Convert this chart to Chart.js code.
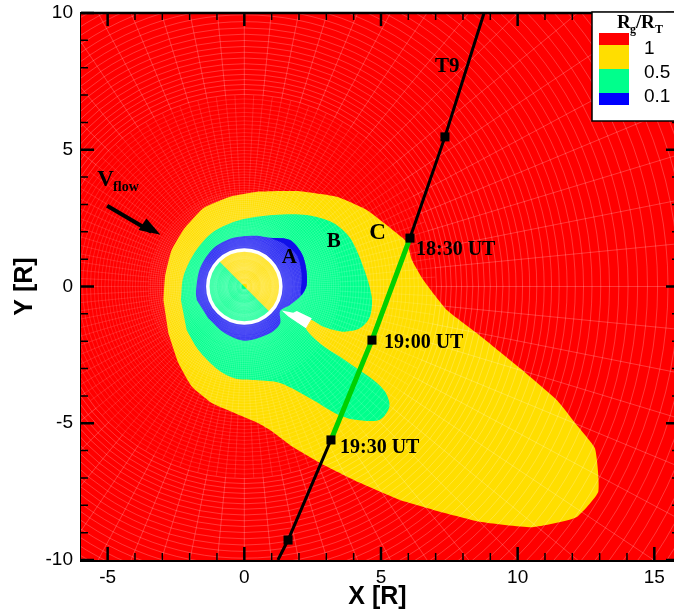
<!DOCTYPE html>
<html>
<head>
<meta charset="utf-8">
<style>
  html, body { margin: 0; padding: 0; background: #fff; }
  #wrap { width: 674px; height: 614px; overflow: hidden; }
</style>
<script src="https://cdn.jsdelivr.net/npm/chart.js@4/dist/chart.umd.min.js"></script>
</head>
<body>
<div id="wrap"><canvas id="canvas" width="674" height="614"></canvas></div>
<script>
// region outlines in X/Y [R]
const redOutline = [[-6, -10], [16, -10], [16, 10], [-6, 10]];
const yellowOutline = [[-2.96, -0.49], [-2.90, 0.36], [-2.66, 1.33], [-2.23, 2.07], [-1.50, 2.86], [-0.52, 3.28],
    [0.57, 3.47], [1.92, 3.49], [3.38, 3.28], [4.48, 2.80], [5.58, 1.95], [5.95, 1.62], [6.12, 1.00], [6.55, 0.24],
    [7.41, -0.86], [8.50, -1.70], [9.23, -2.29], [10.09, -2.99], [11.43, -4.15], [12.16, -5.06], [12.83, -5.92],
    [12.95, -7.50], [12.13, -8.45], [10.54, -8.80], [8.62, -8.60], [6.92, -8.17], [5.70, -7.81], [4.23, -7.18],
    [2.77, -6.45], [1.78, -5.87], [0.94, -5.25], [0.39, -4.94], [-0.34, -4.63], [-1.19, -4.26], [-1.92, -3.66],
    [-2.41, -2.80], [-2.78, -1.70]];
const greenOutline = [[-2.32, -0.49], [-2.23, 0.36], [-1.80, 1.27], [-1.13, 2.00], [-0.16, 2.43], [1.06, 2.61],
    [2.28, 2.61], [3.26, 2.32], [3.87, 1.77], [4.35, 0.72], [4.66, -0.37], [4.60, -1.10], [4.23, -1.53], [3.62, -1.65],
    [2.89, -1.47], [2.40, -1.22], [2.25, -1.53], [2.77, -2.08], [3.50, -2.57], [4.11, -2.99], [4.72, -3.42],
    [5.15, -3.85], [5.31, -4.39], [4.94, -4.88], [3.99, -4.86], [3.38, -4.66], [2.51, -4.15], [1.31, -3.53],
    [0.39, -3.42], [-0.34, -3.36], [-0.95, -3.05], [-1.68, -2.32], [-2.11, -1.59]];
const blueOutline = [[-1.74, -0.49], [-1.77, -0.19], [-1.62, 0.67], [-1.13, 1.40], [-0.40, 1.78], [0.45, 1.86],
    [0.94, 1.78], [1.67, 1.70], [2.10, 1.21], [2.26, 0.67], [2.28, 0.05], [2.10, -0.31], [1.67, -0.68], [1.31, -0.90],
    [1.31, -1.35], [0.94, -1.71], [0.03, -1.98], [-0.71, -1.71], [-1.32, -1.16]];
const darkBlueOutline = [[0.94, 1.78], [1.67, 1.70], [2.10, 1.21], [2.26, 0.67], [2.28, 0.05], [2.10, -0.31],
    [2.06, -0.25], [2.10, 0.42], [1.92, 1.15], [1.43, 1.58]];
const wakeGap = [[1.37, -0.88], [1.79, -0.96], [1.92, -0.90], [2.47, -1.16], [2.25, -1.53], [1.61, -1.10]];
const nightSide = [[-0.94, 0.94], [-1.15, 0.67], [-1.28, 0.34], [-1.33, 0], [-1.28, -0.34], [-1.15, -0.67],
    [-0.94, -0.94], [-0.67, -1.15], [-0.34, -1.28], [0, -1.33], [0.34, -1.28], [0.67, -1.15], [0.94, -0.94]];

// T9 trajectory
const trackPath = [[8.77, 10], [7.34, 5.47], [6.06, 1.77], [4.67, -1.96], [3.17, -5.61], [1.60, -9.27], [1.23, -10]];
const trackInside = [[6.06, 1.77], [4.67, -1.96], [3.17, -5.61]];
const trackMarks = [[7.34, 5.47], [6.06, 1.77], [4.67, -1.96], [3.17, -5.61], [1.60, -9.27]];

// flow arrow
const flowShaft = [[-5.02, 2.95], [-3.4, 2.0]];
const flowHead = [[-3.58, 2.49], [-3.07, 1.89], [-3.87, 2.07]];

// axes
const xLabelled = [-5, 0, 5, 10, 15];
const yLabelled = [-10, -5, 0, 5, 10];
const xTicks = [-5, -4, -3, -2, -1, 0, 1, 2, 3, 4, 5, 6, 7, 8, 9, 10, 11, 12, 13, 14, 15];
const yTicks = [-10, -9, -8, -7, -6, -5, -4, -3, -2, -1, 0, 1, 2, 3, 4, 5, 6, 7, 8, 9, 10];

// simulation mesh behind the contours
const meshRadii = [0.15, 0.2, 0.25, 0.3, 0.35, 0.4, 0.45, 0.5, 0.55, 0.6, 0.65, 0.7, 0.75, 0.8, 0.85, 0.9, 0.95,
    1.00, 1.03, 1.05, 1.08, 1.10, 1.13, 1.16, 1.19, 1.22, 1.25, 1.28, 1.31, 1.34, 1.38, 1.41, 1.45, 1.48,
    1.52, 1.56, 1.60, 1.64, 1.68, 1.72, 1.76, 1.81, 1.85, 1.90, 1.95, 2.00, 2.05, 2.10, 2.15, 2.20, 2.26, 2.32, 2.37,
    2.43, 2.49, 2.56, 2.62, 2.69, 2.75, 2.82, 2.89, 2.96, 3.04, 3.11, 3.19, 3.27, 3.35, 3.44, 3.52, 3.61, 3.70, 3.79,
    3.89, 3.99, 4.09, 4.19, 4.29, 4.40, 4.51, 4.62, 4.74, 4.86, 4.98, 5.10, 5.23, 5.36, 5.49, 5.63, 5.77, 5.92, 6.06,
    6.22, 6.37, 6.53, 6.69, 6.86, 7.03, 7.21, 7.39, 7.57, 7.76, 7.95, 8.15, 8.36, 8.57, 8.78, 9.00, 9.23, 9.46, 9.69,
    9.94, 10.18, 10.44, 10.70, 10.97, 11.24, 11.52, 11.81, 12.11, 12.41, 12.72, 13.04, 13.36, 13.70, 14.04, 14.39,
    14.75, 15.12, 15.50, 15.89, 16.28, 16.69, 17.11, 17.54, 17.97, 18.42, 18.88, 19.36];
const meshSpokeCounts = [64, 64, 128, 64];
const meshSpokeOffsets = [0, 0.5, 0.5, 0];
const meshSpokeStart = [0.1, 0.3, 0.6, 7];
const meshSpokeEnd = [7, 7, 3.5, 25];
const meshSpokeAlpha = [0.13, 0.13, 0.13, 0.22];

const annotations = [
    { text: 'T9', x: 6.98, y: 8.03, size: 21 },
    { text: 'A', x: 1.37, y: 1.04, size: 21 },
    { text: 'B', x: 3.02, y: 1.63, size: 21 },
    { text: 'C', x: 4.57, y: 1.96, size: 23 },
    { text: '18:30 UT', x: 6.28, y: 1.33, size: 20 },
    { text: '19:00 UT', x: 5.11, y: -2.07, size: 20 },
    { text: '19:30 UT', x: 3.50, y: -5.90, size: 20 },
];

const legendColors = ['#ff0000', '#ffde00', '#00ff8c', '#0000ff'];
const legendLabels = ['1', '0.5', '0.1'];

function toPoints(list) {
    return list.map(p => ({ x: p[0], y: p[1] }));
}

function area(label, outline, color, tension) {
    return {
        label: label,
        data: toPoints(outline),
        showLine: true,
        fill: 'shape',
        tension: tension || 0,
        backgroundColor: color,
        borderColor: color,
        borderWidth: 0,
        pointRadius: 0,
    };
}

function line(label, path, color, width) {
    return {
        label: label,
        data: toPoints(path),
        showLine: true,
        fill: false,
        borderColor: color,
        borderWidth: width,
        pointRadius: 0,
    };
}

function disc(label, fillColor, edgeColor, edgeWidth) {
    return {
        label: label,
        data: [{ x: 0, y: 0 }],
        showLine: false,
        pointRadius: 36.5,
        pointBackgroundColor: fillColor,
        pointBorderColor: edgeColor,
        pointBorderWidth: edgeWidth,
    };
}

// first in the list is painted last
const layers = [
    area('arrow head', flowHead, '#000000'),
    line('arrow', flowShaft, '#000000', 4),
    {
        label: 'marks',
        data: toPoints(trackMarks),
        showLine: false,
        pointStyle: 'rect',
        pointRadius: 6.4,
        pointBackgroundColor: '#000000',
        pointBorderWidth: 0,
    },
    line('inside', trackInside, '#00d000', 5),
    line('track', trackPath, '#000000', 3),
    disc('ring', 'rgba(0,0,0,0)', '#ffffff', 3.5),
    area('0.1 edge', darkBlueOutline, '#1010e8', 0.3),
    area('gap', wakeGap, '#ffffff'),
    area('night', nightSide, '#00ff8c'),
    disc('planet', '#ffde00', '#ffde00', 0),
    area('0.1', blueOutline, '#1a1af2', 0.3),
    area('0.5', greenOutline, '#00ff8c', 0.3),
    area('1', yellowOutline, '#ffde00', 0.15),
    area('background', redOutline, '#ff0000'),
];

const meshPlugin = {
    id: 'mesh',
    afterDatasetDraw(chart, args) {
        if (chart.data.datasets[args.index].label !== 'night') return;
        const { ctx, chartArea, scales } = chart;
        const cx = scales.x.getPixelForValue(0);
        const cy = scales.y.getPixelForValue(0);
        const unit = scales.x.getPixelForValue(1) - cx;
        ctx.save();
        ctx.beginPath();
        ctx.rect(chartArea.left, chartArea.top, chartArea.right - chartArea.left, chartArea.bottom - chartArea.top);
        ctx.clip();
        ctx.lineWidth = 1;
        meshRadii.forEach(r => {
            ctx.strokeStyle = `rgba(255,255,255,${r < 7 ? 0.13 : 0.22})`;
            ctx.beginPath();
            ctx.arc(cx, cy, r * unit, 0, Math.PI * 2);
            ctx.stroke();
        });
        meshSpokeCounts.forEach((count, band) => {
            const from = meshSpokeStart[band] * unit;
            const to = meshSpokeEnd[band] * unit;
            ctx.strokeStyle = `rgba(255,255,255,${meshSpokeAlpha[band]})`;
            for (let i = 0; i < count; i++) {
                const a = (i + meshSpokeOffsets[band]) * Math.PI * 2 / count;
                ctx.beginPath();
                ctx.moveTo(cx + Math.cos(a) * from, cy + Math.sin(a) * from);
                ctx.lineTo(cx + Math.cos(a) * to, cy + Math.sin(a) * to);
                ctx.stroke();
            }
        });
        ctx.restore();
    },
};

const framePlugin = {
    id: 'frame',
    afterDatasetsDraw(chart) {
        const { ctx, chartArea, scales } = chart;
        const { left, right, top, bottom } = chartArea;
        const farRight = right + 5;
        ctx.save();
        ctx.strokeStyle = '#000000';
        xTicks.forEach(v => {
            const px = scales.x.getPixelForValue(v);
            const major = v % 5 === 0;
            const len = major ? 13 : 7;
            ctx.lineWidth = major ? 2.5 : 1.5;
            ctx.beginPath();
            ctx.moveTo(px, bottom);
            ctx.lineTo(px, bottom - len);
            ctx.moveTo(px, top);
            ctx.lineTo(px, top + len);
            ctx.stroke();
        });
        yTicks.forEach(v => {
            const py = scales.y.getPixelForValue(v);
            const major = v % 5 === 0;
            const len = major ? 13 : 7;
            ctx.lineWidth = major ? 2.5 : 1.5;
            ctx.beginPath();
            ctx.moveTo(left, py);
            ctx.lineTo(left + len, py);
            ctx.moveTo(farRight, py);
            ctx.lineTo(farRight - len, py);
            ctx.stroke();
        });
        ctx.lineWidth = 2.5;
        ctx.beginPath();
        ctx.moveTo(left, top);
        ctx.lineTo(right, top);
        ctx.stroke();

        // labels on the plot
        ctx.fillStyle = '#000000';
        ctx.textAlign = 'left';
        ctx.textBaseline = 'middle';
        annotations.forEach(a => {
            ctx.font = `bold ${a.size}px "Liberation Serif"`;
            ctx.fillText(a.text, scales.x.getPixelForValue(a.x), scales.y.getPixelForValue(a.y));
        });
        ctx.textBaseline = 'alphabetic';
        ctx.font = 'bold 23px "Liberation Serif"';
        ctx.fillText('V', scales.x.getPixelForValue(-5.38), scales.y.getPixelForValue(3.66));
        ctx.font = 'bold 14px "Liberation Serif"';
        ctx.fillText('flow', scales.x.getPixelForValue(-4.80), scales.y.getPixelForValue(3.48));

        // contour key
        ctx.fillStyle = '#ffffff';
        ctx.fillRect(592, 12, 90, 109);
        ctx.lineWidth = 1.5;
        ctx.strokeRect(592, 12, 90, 109);
        ctx.fillStyle = legendColors[0];
        ctx.fillRect(599, 33, 30, 12);
        ctx.fillStyle = legendColors[1];
        ctx.fillRect(599, 45, 30, 24);
        ctx.fillStyle = legendColors[2];
        ctx.fillRect(599, 69, 30, 24);
        ctx.fillStyle = legendColors[3];
        ctx.fillRect(599, 93, 30, 12);
        ctx.fillStyle = '#000000';
        ctx.font = 'bold 19px "Liberation Serif"';
        ctx.fillText('R', 617, 28);
        ctx.fillText('/', 636, 28);
        ctx.fillText('R', 641, 28);
        ctx.font = 'bold 12px "Liberation Serif"';
        ctx.fillText('g', 630, 33);
        ctx.fillText('T', 655, 33);
        ctx.font = '19px "Liberation Sans"';
        ctx.textBaseline = 'middle';
        legendLabels.forEach((t, i) => {
            ctx.fillText(t, 644, 49 + i * 24);
        });
        ctx.restore();
    },
};

new Chart(document.getElementById('canvas').getContext('2d'), {
    type: 'scatter',
    data: { datasets: layers },
    plugins: [meshPlugin, framePlugin],
    options: {
        responsive: false,
        animation: false,
        layout: { autoPadding: false, padding: { top: 13, left: 0, right: 0, bottom: 0 } },
        plugins: { legend: { display: false }, tooltip: { enabled: false } },
        scales: {
            x: {
                type: 'linear',
                min: -5.975,
                max: 15.72,
                afterFit: scale => { scale.height = 54; scale.paddingRight = 0; scale.paddingLeft = 0; },
                afterBuildTicks: scale => { scale.ticks = xLabelled.map(v => ({ value: v })); },
                grid: { display: false, drawTicks: false },
                border: { display: true, color: '#000000', width: 3 },
                ticks: {
                    color: '#000000',
                    padding: 6,
                    maxRotation: 0,
                    font: { family: 'Liberation Sans', size: 19 },
                },
                title: {
                    display: true,
                    text: 'X [R]',
                    color: '#000000',
                    padding: { top: 0, bottom: 2 },
                    font: { family: 'Liberation Sans', size: 25, weight: 'bold' },
                },
            },
            y: {
                type: 'linear',
                min: -10,
                max: 10,
                afterFit: scale => { scale.width = 81; scale.paddingTop = 0; scale.paddingBottom = 0; },
                afterBuildTicks: scale => { scale.ticks = yLabelled.map(v => ({ value: v })); },
                grid: { display: false, drawTicks: false },
                border: { display: true, color: '#000000', width: 3 },
                ticks: {
                    color: '#000000',
                    padding: 8,
                    font: { family: 'Liberation Sans', size: 19 },
                },
                title: {
                    display: true,
                    text: 'Y [R]',
                    color: '#000000',
                    padding: { top: 10, bottom: 0 },
                    font: { family: 'Liberation Sans', size: 25, weight: 'bold' },
                },
            },
        },
    },
});
</script>
</body>
</html>
